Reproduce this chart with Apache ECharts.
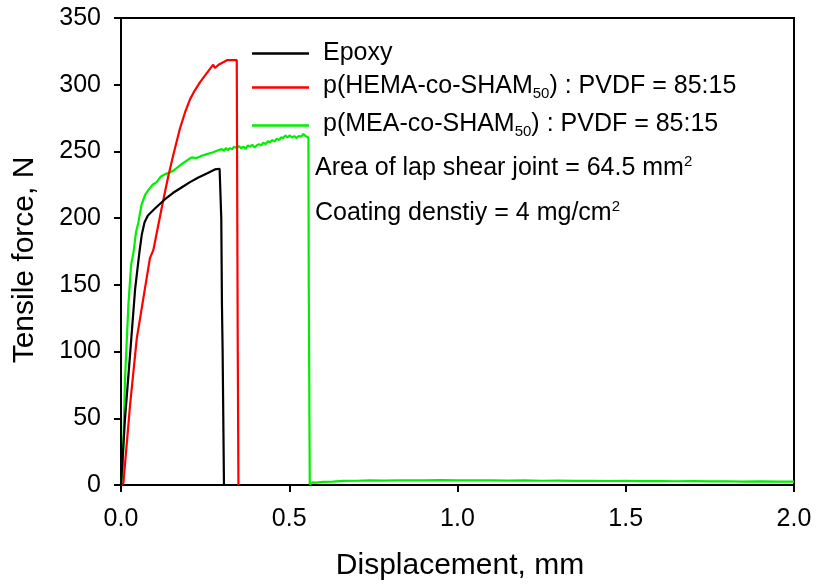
<!DOCTYPE html>
<html>
<head>
<meta charset="utf-8">
<script src="https://cdn.jsdelivr.net/npm/echarts@6/dist/echarts.min.js"></script>
<style>html,body{margin:0;padding:0;background:#fff}#c{width:816px;height:586px}</style>
</head>
<body>
<div id="c"></div>
<script>
// ---- data ----
var epoxyX = [0, 0.012, 0.027, 0.042, 0.055, 0.062, 0.07, 0.08, 0.1, 0.13, 0.155, 0.18, 0.205, 0.23, 0.255, 0.279, 0.293, 0.297, 0.298, 0.300, 0.302, 0.306];
var epoxyY = [0, 50, 98, 147, 175, 188, 197, 202, 207, 214, 219, 223, 227, 230.5, 233.5, 236.5, 237, 236, 200, 135, 100, 0];

var hemaX = [0, 0.007, 0.027, 0.047, 0.071, 0.086, 0.096, 0.111, 0.126, 0.141, 0.155, 0.175, 0.19, 0.205, 0.22, 0.235, 0.25, 0.265, 0.274, 0.279, 0.29, 0.305, 0.316, 0.344, 0.347, 0.349];
var hemaY = [0, 1, 60, 110, 147, 170, 176, 195, 214, 232, 247, 267, 279, 289, 296, 302, 307, 312, 315, 312.5, 315, 317, 318.5, 318.5, 100, 0];

var meaX = [0, 0.005, 0.012, 0.022, 0.03, 0.037, 0.045, 0.051, 0.061, 0.071, 0.081, 0.094, 0.106, 0.118, 0.131, 0.143, 0.155, 0.168, 0.18, 0.195, 0.21, 0.225, 0.24, 0.255, 0.27, 0.285,
  0.299, 0.306, 0.312, 0.318, 0.324, 0.33, 0.336, 0.344, 0.35, 0.357, 0.364, 0.37, 0.377, 0.383, 0.39, 0.397, 0.403, 0.41, 0.416, 0.423, 0.43, 0.436, 0.443, 0.45, 0.456, 0.463, 0.47, 0.476, 0.482, 0.489, 0.495, 0.502, 0.508, 0.515, 0.522, 0.528, 0.535, 0.542, 0.548, 0.552, 0.557,
  0.558, 0.561, 0.57, 0.58, 0.6, 0.63, 0.66, 0.7, 0.74, 0.78, 0.82, 0.86, 0.9, 0.95, 1.0, 1.05, 1.1, 1.15, 1.2, 1.25, 1.3, 1.35, 1.4, 1.45, 1.5, 1.55, 1.6, 1.65, 1.7, 1.75, 1.8, 1.85, 1.9, 1.95, 2.0];
var meaY = [0, 11, 80, 135, 165, 174, 190, 196, 210, 217, 221, 225, 227, 231, 233, 234, 235.5, 238, 240.5, 243, 245.5, 245, 246.7, 248, 249, 250.5,
  251.7, 250.5, 252.5, 251, 252.5, 251.5, 253.5, 252.5, 254, 252.5, 253.5, 252, 254.5, 253.5, 255, 253, 254.5, 255.5, 254.5, 256.5, 255.5, 257.5, 257, 258.5, 257.5, 259.5, 258.5, 260.5, 260, 262, 260.5, 262, 260.5, 261.5, 260, 261.5, 261, 263, 261.5, 261, 260.5,
  150, 0.5, 2, 1.8, 2.4, 2.6, 3.1, 3.2, 3.4, 3.3, 3.5, 3.4, 3.5, 3.6, 3.5, 3.4, 3.5, 3.3, 3.4, 3.2, 3.3, 3.1, 3.2, 3.0, 3.1, 2.9, 3.0, 2.8, 2.9, 2.7, 2.8, 2.6, 2.7, 2.6, 2.6];

var seriesNames = ['Epoxy', 'p(HEMA-co-SHAM50) : PVDF = 85:15', 'p(MEA-co-SHAM50) : PVDF = 85:15'];
var legendLabels = ['{n|Epoxy}', '{t|p(HEMA-co-SHAM}{s|50}{t|) : PVDF = 85:15}', '{t|p(MEA-co-SHAM}{s|50}{t|) : PVDF = 85:15}'];
var noteArea = '{b|Area of lap shear joint = 64.5 mm}{p|2}';
var noteCoat = '{b|Coating denstiy = 4 mg/cm}{p|2}';
var xTitle = 'Displacement, mm';
var yTitle = 'Tensile force, N';

function zip(xs, ys) { return xs.map(function (x, i) { return [x, ys[i]]; }); }

var FONT = '"Liberation Sans", Arial, sans-serif';
var chart = echarts.init(document.getElementById('c'), null, { renderer: 'canvas' });

var legendRich = {
  n: { fontSize: 25, fontFamily: FONT, color: '#000' },
  t: { fontSize: 25, fontFamily: FONT, color: '#000', verticalAlign: 'top' },
  s: { fontSize: 15, fontFamily: FONT, color: '#000', verticalAlign: 'bottom', padding: [12, 0, 0, 0] }
};
function mkLegend(i, top) {
  return {
    data: [seriesNames[i]], left: 252, top: top, orient: 'vertical', padding: 0,
    icon: 'rect', itemWidth: 57, itemHeight: 2.5,
    formatter: function () { return legendLabels[i]; },
    textStyle: { fontSize: 25, fontFamily: FONT, color: '#000', padding: [0, 0, 0, 9], rich: legendRich },
    selectedMode: false
  };
}
var noteRich = {
  b: { fontSize: 25, fontFamily: FONT, fill: '#000', verticalAlign: 'bottom' },
  p: { fontSize: 15, fontFamily: FONT, fill: '#000', verticalAlign: 'top', padding: [0, 0, 12, 0] }
};

chart.setOption({
  animation: false,
  backgroundColor: '#fff',
  grid: { left: 121, right: 22, top: 18, bottom: 98, show: true, borderColor: '#000', borderWidth: 2, containLabel: false },
  xAxis: {
    type: 'value', min: 0, max: 2, interval: 0.5,
    name: xTitle, nameLocation: 'middle', nameGap: 66,
    nameTextStyle: { fontSize: 30, fontFamily: FONT, color: '#000', padding: [0, 0, 0, 5] },
    axisLine: { show: true, onZero: false, lineStyle: { color: '#000', width: 2 } },
    axisTick: { show: true, inside: false, length: 7, lineStyle: { color: '#000', width: 2 } },
    axisLabel: { margin: 22, fontSize: 25, fontFamily: FONT, color: '#000', formatter: function (v) { return v.toFixed(1); } },
    splitLine: { show: false }
  },
  yAxis: {
    type: 'value', min: 0, max: 350, interval: 50,
    name: yTitle, nameLocation: 'middle', nameGap: 81,
    nameTextStyle: { fontSize: 30, fontFamily: FONT, color: '#000', padding: [0, 17, 0, 0] },
    axisLine: { show: true, onZero: false, lineStyle: { color: '#000', width: 2 } },
    axisTick: { show: true, inside: false, length: 7, lineStyle: { color: '#000', width: 2 } },
    axisLabel: { margin: 20, fontSize: 25, fontFamily: FONT, color: '#000' },
    splitLine: { show: false }
  },
  legend: [mkLegend(0, 41), mkLegend(1, 74), mkLegend(2, 112)],
  graphic: [
    { type: 'text', left: 315, top: 154, style: { text: noteArea, rich: noteRich, fill: '#000', font: '25px ' + FONT } },
    { type: 'text', left: 315, top: 199, style: { text: noteCoat, rich: noteRich, fill: '#000', font: '25px ' + FONT } }
  ],
  series: [
    { name: seriesNames[0], type: 'line', data: zip(epoxyX, epoxyY), showSymbol: false, symbol: 'none', lineStyle: { color: '#000', width: 2.2 }, itemStyle: { color: '#000' }, z: 3 },
    { name: seriesNames[1], type: 'line', data: zip(hemaX, hemaY), showSymbol: false, symbol: 'none', lineStyle: { color: '#ff0000', width: 2.2 }, itemStyle: { color: '#ff0000' }, z: 2 },
    { name: seriesNames[2], type: 'line', data: zip(meaX, meaY), showSymbol: false, symbol: 'none', lineStyle: { color: '#00ee00', width: 2.2 }, itemStyle: { color: '#00ee00' }, z: 1 }
  ]
});
</script>
</body>
</html>
